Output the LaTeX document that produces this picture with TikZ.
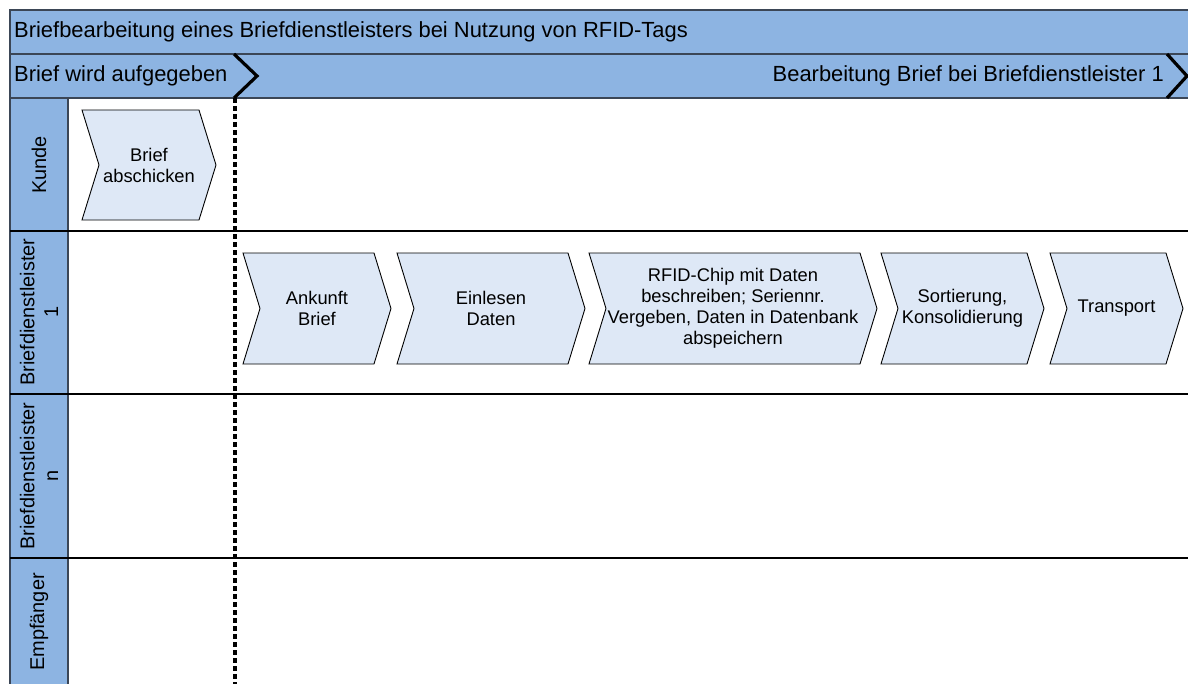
\documentclass[tikz,border=0pt]{standalone}
\usepackage{fontspec}
\setmainfont{Liberation Sans}
\definecolor{bandblue}{RGB}{141,180,226}
\definecolor{stepblue}{RGB}{222,232,246}
\definecolor{bandline}{RGB}{59,70,86}
\tikzset{
  band/.style={fill=bandblue,draw=bandline,line width=1.4bp},
  stepshape/.style={fill=stepblue,draw=black,line width=0.9bp},
  steplabel/.style={align=center,inner sep=0pt,font=\fontsize{18.4}{21}\selectfont},
  lanelabel/.style={align=center,inner sep=0pt,rotate=90,font=\fontsize{20}{24}\selectfont},
  headlabel/.style={anchor=west,inner sep=0pt,font=\fontsize{22}{26}\selectfont},
  phasemark/.style={black,line width=3.2bp},
}
% chevron step: name, left, tip, top, bottom, text
\newcommand{\procstep}[6]{%
  \draw [stepshape] (#2,#4) -- (#3-17,#4) -- (#3,{(#4+#5)/2}) -- (#3-17,#5)
    -- (#2,#5) -- (#2+17,{(#4+#5)/2}) -- cycle;
  \node (#1) at ({(#2+#3)/2},{(#4+#5)/2}) [steplabel] {#6};
}
\begin{document}
\begin{tikzpicture}[x=1bp,y=-1bp,line join=miter]
\useasboundingbox (0,0) rectangle (1188,684);
\clip (0,0) rectangle (1188,684);
%% swimlanes
\fill [bandblue] (10,98) rectangle (68,690);
\draw [bandline,line width=1.4bp] (10,98) -- (10,690);
\draw [bandline,line width=1.4bp] (68,98) -- (68,690);
\draw [black,line width=1.2bp] (10,231) -- (1195,231);
\draw [black,line width=1.2bp] (10,394) -- (1195,394);
\draw [black,line width=1.2bp] (10,558) -- (1195,558);
\node (lane_kunde) at (39,165) [lanelabel] {Kunde};
\node (lane_bdl_1) at (39,312) [lanelabel] {Briefdienstleister\\1};
\node (lane_bdl_n) at (39,476) [lanelabel] {Briefdienstleister\\n};
\node (lane_empf) at (39,622) [lanelabel] {Empfänger};
%% header
\draw [band] (10,10) rectangle (1195,54);
\draw [band] (10,54) rectangle (1195,98);
\node (title) at (14,32) [headlabel] {Briefbearbeitung eines Briefdienstleisters bei Nutzung von RFID-Tags};
\node (phase_1) at (14,76) [headlabel] {Brief wird aufgegeben};
\node (phase_2) at (1164,76) [headlabel,anchor=east] {Bearbeitung Brief bei Briefdienstleister 1};
\draw [phasemark] (234,98) -- (257,76) -- (234,54);
\draw [phasemark] (1167,98) -- (1187,76) -- (1167,54);
\draw [phasemark,dash pattern=on 5bp off 3bp] (235,98) -- (235,690);
%% steps
\procstep{step_0}{82}{216}{110}{220}{Brief\\abschicken}
\procstep{step_1}{243}{391}{253}{364}{Ankunft\\Brief}
\procstep{step_2}{397}{585}{253}{364}{Einlesen\\Daten}
\procstep{step_3}{589}{877}{253}{364}{RFID-Chip mit Daten\\beschreiben; Seriennr.\\Vergeben, Daten in Datenbank\\abspeichern}
\procstep{step_4}{881}{1044}{253}{364}{Sortierung,\\Konsolidierung}
\procstep{step_5}{1050}{1183}{253}{364}{Transport}
%
\end{tikzpicture}
\end{document}
